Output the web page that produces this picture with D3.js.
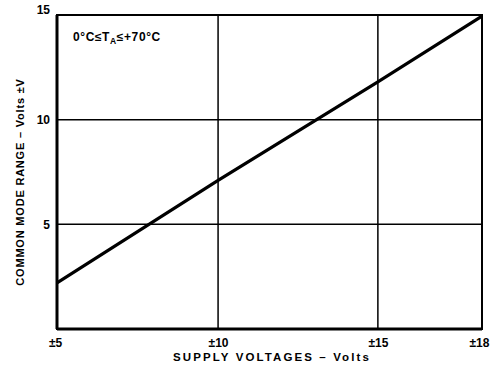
<!DOCTYPE html>
<html>
<head>
<meta charset="utf-8">
<script src="https://cdn.jsdelivr.net/npm/d3@7"></script>
<style>
  html, body { margin: 0; padding: 0; background: #fff; }
  svg { display: block; }
  text { font-family: "Liberation Sans", Arial, sans-serif; font-weight: bold; fill: #000; }
</style>
</head>
<body>
<svg id="chart" width="494" height="370"></svg>
<script>
// Supply voltage (± volts) and common mode range (± volts)
const supplyVolts = [5, 10, 15, 18];
const commonModeRange = [2.2, 7.1, 11.8, 14.95];

const xTickValues = [5, 10, 15, 18];
const xTickLabels = ["±5", "±10", "±15", "±18"];
const yTickValues = [5, 10, 15];
const yTickLabels = ["5", "10", "15"];

const xTitle = "SUPPLY VOLTAGES – Volts";
const yTitle = "COMMON MODE RANGE – Volts ±V";

const svg = d3.select("#chart");
const margin = { left: 57, right: 12, top: 15, bottom: 41 };
const W = 494 - margin.left - margin.right;
const H = 370 - margin.top - margin.bottom;
const g = svg.append("g").attr("transform", `translate(${margin.left},${margin.top})`);

// The printed voltage axis is not evenly spaced past ±15, so it is piecewise
const x = d3.scaleLinear().domain(supplyVolts).range([0, 0.379, 0.755, 1].map(f => f * W));
const y = d3.scaleLinear().domain([0, 15]).range([H, 0]);

// grid
g.append("g").selectAll("line").data([10, 15]).join("line")
  .attr("x1", d => x(d)).attr("x2", d => x(d)).attr("y1", 0).attr("y2", H)
  .attr("stroke", "#000").attr("stroke-width", 1.5);
g.append("g").selectAll("line").data([5, 10]).join("line")
  .attr("x1", 0).attr("x2", W).attr("y1", d => y(d)).attr("y2", d => y(d))
  .attr("stroke", "#000").attr("stroke-width", 1.5);

// frame
g.append("rect").attr("x", 0).attr("y", 0).attr("width", W).attr("height", H)
  .attr("fill", "none").attr("stroke", "#000").attr("stroke-width", 2);
g.append("line").attr("x1", 0).attr("x2", 0).attr("y1", 0).attr("y2", H)
  .attr("stroke", "#000").attr("stroke-width", 3);
g.append("line").attr("x1", 0).attr("x2", W).attr("y1", H).attr("y2", H)
  .attr("stroke", "#000").attr("stroke-width", 3);

const labelStyle = sel => sel.style("font-size", "12px")
  .style("font-family", "Liberation Sans, Arial, sans-serif").style("font-weight", "bold");

// axes (labels only)
const xAxis = d3.axisBottom(x).tickValues(xTickValues)
  .tickFormat((d, i) => xTickLabels[i]).tickSize(0).tickPadding(9);
const xg = g.append("g").attr("transform", `translate(0,${H})`).call(xAxis);
xg.select(".domain").remove();
xg.selectAll("text").call(labelStyle);
xg.selectAll("text").filter(d => d === 5).attr("dx", -2);
xg.selectAll("text").filter(d => d === 18).attr("dx", -3);

const yAxis = d3.axisLeft(y).tickValues(yTickValues)
  .tickFormat((d, i) => yTickLabels[i]).tickSize(0).tickPadding(7);
const yg = g.append("g").call(yAxis);
yg.select(".domain").remove();
yg.selectAll("text").call(labelStyle);
yg.selectAll("text").filter(d => d === 15).attr("dy", "-0.15em");

// data line
const line = d3.line().x((d, i) => x(supplyVolts[i])).y(d => y(d));
g.append("path").datum(commonModeRange).attr("d", line)
  .attr("fill", "none").attr("stroke", "#000").attr("stroke-width", 3.2).attr("stroke-linecap", "butt");

// temperature condition
const note = g.append("text").attr("x", 16).attr("y", 26)
  .style("font-size", "12px").style("letter-spacing", "0.6px");
note.append("tspan").text("0°C≤T");
note.append("tspan").attr("font-size", "8.5px").attr("dy", 3).text("A");
note.append("tspan").attr("dy", -3).text("≤+70°C");

// titles
svg.append("text").attr("x", 272).attr("y", 361)
  .attr("text-anchor", "middle").style("font-size", "11.5px").style("letter-spacing", "2.1px").text(xTitle);
svg.append("text").attr("transform", `translate(24,182) rotate(-90)`)
  .attr("text-anchor", "middle").style("font-size", "11px").style("letter-spacing", "0.8px").text(yTitle);
</script>
</body>
</html>
